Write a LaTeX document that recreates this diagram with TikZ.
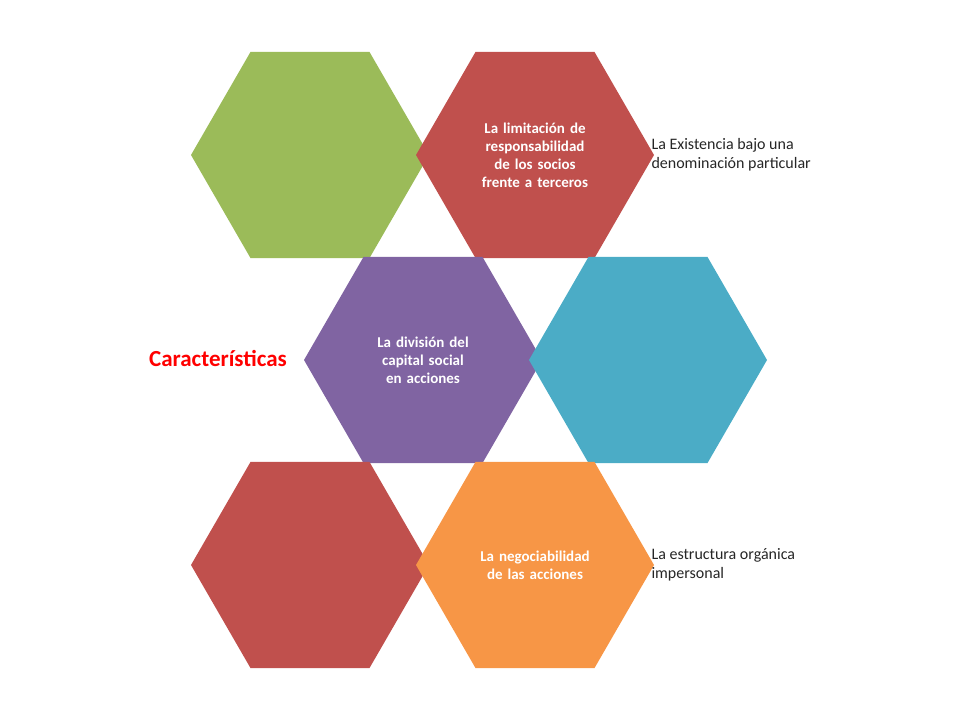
\documentclass[tikz,border=0pt]{standalone}
\usepackage{fontspec}
\setmainfont{Carlito}
\usetikzlibrary{shapes.geometric}
\definecolor{hgreen}{HTML}{9BBB59}
\definecolor{hred}{HTML}{C0504D}
\definecolor{hpurple}{HTML}{8064A2}
\definecolor{hteal}{HTML}{4BACC6}
\definecolor{horange}{HTML}{F79646}
\tikzset{hexa/.style={regular polygon,regular polygon sides=6,minimum size=238pt,inner sep=0pt,draw=none},
         hextext/.style={text=white,font=\fontsize{15}{18}\selectfont\bfseries,align=center,text width=125pt},
         sidetext/.style={anchor=west,font=\fontsize{16}{19}\selectfont,align=left,text=black!85},
        }
\begin{document}
\begin{tikzpicture}[x=1pt,y=-1pt]
        \useasboundingbox (0,0) rectangle (960,720);
        \node[hexa,fill=hgreen](h1)at(310,155){};
        \node[hexa,fill=hred](h2)at(535,155){};
        \node[hexa,fill=hpurple](h3)at(423,360){};
        \node[hexa,fill=hteal](h4)at(648,360){};
        \node[hexa,fill=hred](h5)at(310,565){};
        \node[hexa,fill=horange](h6)at(535,565){};

        \node[hextext](t2)at(h2){La limitación de responsabilidad de los socios frente a terceros};
        \node[hextext](t3)at(h3){La división del capital social en acciones};
        \node[hextext](t6)at(h6){La negociabilidad de las acciones};

        \node[sidetext](s1)at(648,155){La Existencia bajo una\\denominación particular};
        \node[sidetext](s2)at(648,565){La estructura orgánica\\impersonal};
        \node[text=red,font=\fontsize{23}{26}\selectfont\bfseries](title)at(218,358){Características};
    \end{tikzpicture}
\end{document}
